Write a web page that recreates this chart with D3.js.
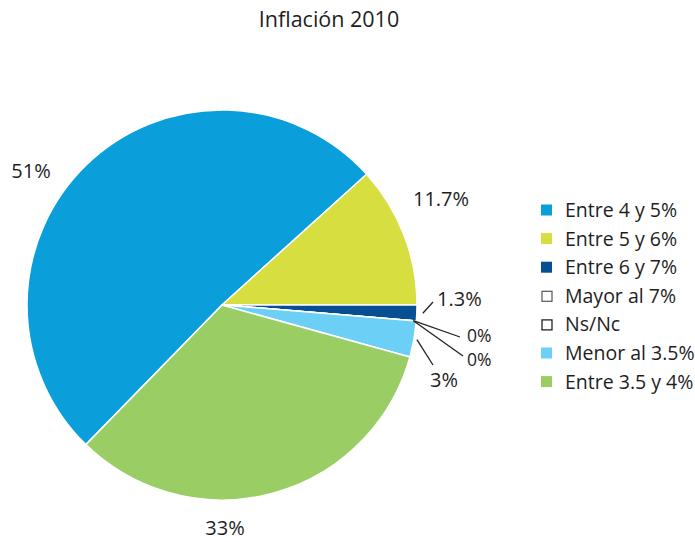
<!DOCTYPE html>
<html><head><meta charset="utf-8">
<script src="https://cdn.jsdelivr.net/npm/d3@7"></script>
<style>body{margin:0;background:#fff;} svg{display:block;font-family:"Open Sans",sans-serif;}</style>
</head><body><svg id="c" width="695" height="542"></svg>
<script>
// Data
const categories = ["Entre 4 y 5%","Entre 5 y 6%","Entre 6 y 7%","Mayor al 7%","Ns/Nc","Menor al 3.5%","Entre 3.5 y 4%"];
const values = [51, 11.7, 1.3, 0, 0, 3, 33];
const valueLabels = ["51%","11.7%","1.3%","0%","0%","3%","33%"];
const colors = ["#0a9edb","#d6df3f","#074f92","#ffffff","#ffffff","#6ccff5","#9acd64"];
const title = "Inflación 2010";

// Layout (not data)
const cx = 222, cy = 305, R = 195;
const total = d3.sum(values);
const startDeg = 90 - (values[0] + values[1]) / total * 360;
const labelLayout = [
  {x:31, y:178, anchor:"middle", fs:20},
  {x:441, y:206, anchor:"middle", fs:20},
  {x:437, y:306, anchor:"start", line:[433,302], fs:20},
  {x:467, y:342, anchor:"start", line:[460,337], fs:17.5},
  {x:467, y:366, anchor:"start", line:[463,356], fs:17.5},
  {x:430, y:387, anchor:"start", line:[433,365], fs:20},
  {x:225, y:535, anchor:"middle", fs:20}
];

const svg = d3.select("#c");
svg.append("text").attr("x",329).attr("y",27).attr("text-anchor","middle")
  .attr("font-size",21.5).attr("font-weight",500).attr("fill","#1e1e1e").text(title);

const pie = d3.pie().sort(null).value(d=>d)
  .startAngle(startDeg*Math.PI/180).endAngle(startDeg*Math.PI/180 + 2*Math.PI);
const arcs = pie(values);
const arc = d3.arc().innerRadius(0).outerRadius(R);
const g = svg.append("g").attr("transform",`translate(${cx},${cy})`);
g.selectAll("path").data(arcs).join("path")
  .attr("d",arc).attr("fill",(d,i)=>colors[i])
  .attr("stroke","#fff").attr("stroke-width",1.5).attr("stroke-linejoin","round");

// leader lines
arcs.forEach((a,i)=>{
  const L = labelLayout[i];
  if(!L.line) return;
  const m = (a.startAngle + a.endAngle)/2;
  const rr = a.value > 2 ? R + 3 : (a.value > 0 ? R + 6 : R - 3);
  svg.append("line").attr("x1",cx + rr*Math.sin(m)).attr("y1",cy - rr*Math.cos(m))
    .attr("x2",L.line[0]).attr("y2",L.line[1]).attr("stroke","#222").attr("stroke-width",1.3);
});

svg.selectAll("text.lbl").data(arcs).join("text").attr("class","lbl")
  .attr("x",(d,i)=>labelLayout[i].x).attr("y",(d,i)=>labelLayout[i].y)
  .attr("text-anchor",(d,i)=>labelLayout[i].anchor)
  .attr("font-size",(d,i)=>labelLayout[i].fs).attr("fill","#1e1e1e").text((d,i)=>valueLabels[i]);

// legend
const leg = svg.append("g").attr("transform","translate(541,210)");
const rows = leg.selectAll("g").data(categories).join("g")
  .attr("transform",(d,i)=>`translate(0,${i*28.6})`);
rows.append("rect").attr("x",(d,i)=>colors[i]==="#ffffff"?1:0).attr("y",(d,i)=>colors[i]==="#ffffff"?-4.5:-5.5)
  .attr("width",(d,i)=>colors[i]==="#ffffff"?10:11).attr("height",(d,i)=>colors[i]==="#ffffff"?10:11)
  .attr("fill",(d,i)=>colors[i]).attr("stroke",(d,i)=>i===3?"#555":(i===4?"#111":"none")).attr("stroke-width",1.2);
rows.append("text").attr("x",24).attr("y",7).attr("font-size",19.5).attr("fill","#1e1e1e").text(d=>d);
</script></body></html>
